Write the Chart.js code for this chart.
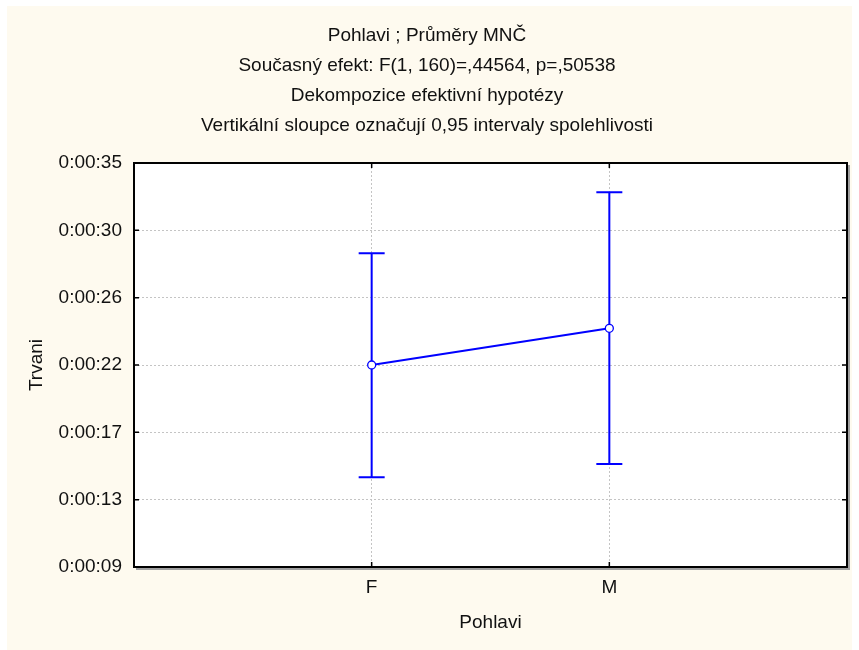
<!DOCTYPE html>
<html>
<head>
<meta charset="utf-8">
<script src="https://cdn.jsdelivr.net/npm/chart.js@4"></script>
<style>
html,body{margin:0;padding:0;background:#ffffff;}
#wrap{position:absolute;left:0;top:0;width:859px;height:650px;}
</style>
</head>
<body>
<div id="wrap"><canvas id="c" width="859" height="650"></canvas></div>
<script>
// ---- data ----
const categories = ['F', 'M'];
const categoryPositions = [1, 2];
const means = [22.0, 24.36];
const lowerCI = [14.77, 15.63];
const upperCI = [29.19, 33.11];
const yTickValues = [9, 13.333, 17.667, 22, 26.333, 30.667, 35];
const yTickLabels = ['0:00:09', '0:00:13', '0:00:17', '0:00:22', '0:00:26', '0:00:30', '0:00:35'];
const titleLines = [
  'Pohlavi ; Průměry MNČ',
  'Současný efekt: F(1, 160)=,44564, p=,50538',
  'Dekompozice efektivní hypotézy',
  'Vertikální sloupce označují 0,95 intervaly spolehlivosti'
];
const xTitle = 'Pohlavi';
const yTitle = 'Trvani';

const FONT = "'Liberation Sans', Arial, sans-serif";
const BLUE = '#0000ff';
const CREAM = '#fefaef';

const framePlugin = {
  id: 'frame',
  beforeDraw(chart) {
    const ctx = chart.ctx, a = chart.chartArea;
    ctx.save();
    ctx.fillStyle = '#ffffff';
    ctx.fillRect(0, 0, chart.width, chart.height);
    ctx.fillStyle = CREAM;
    ctx.fillRect(7, 6, 845, 644);
    ctx.fillStyle = '#ffffff';
    ctx.fillRect(a.left, a.top, a.right - a.left, a.bottom - a.top);
    ctx.restore();
  },
  beforeDatasetsDraw(chart) {
    const ctx = chart.ctx, a = chart.chartArea;
    const xs = chart.scales.x, ys = chart.scales.y;
    ctx.save();
    // shadow
    ctx.strokeStyle = '#a0a0a0';
    ctx.lineWidth = 2;
    ctx.beginPath();
    ctx.moveTo(a.right + 2, a.top + 2);
    ctx.lineTo(a.right + 2, a.bottom + 2);
    ctx.lineTo(a.left + 2, a.bottom + 2);
    ctx.stroke();
    // frame
    ctx.strokeStyle = '#000000';
    ctx.lineWidth = 2;
    ctx.strokeRect(a.left, a.top, a.right - a.left, a.bottom - a.top);
    // inward ticks
    ctx.lineWidth = 1.5;
    ctx.beginPath();
    yTickValues.forEach(v => {
      const y = ys.getPixelForValue(v);
      ctx.moveTo(a.left, y); ctx.lineTo(a.left + 5, y);
      ctx.moveTo(a.right, y); ctx.lineTo(a.right - 5, y);
    });
    categoryPositions.forEach(v => {
      const x = xs.getPixelForValue(v);
      ctx.moveTo(x, a.bottom); ctx.lineTo(x, a.bottom - 5);
      ctx.moveTo(x, a.top); ctx.lineTo(x, a.top + 5);
    });
    ctx.stroke();
    // error bars
    ctx.strokeStyle = BLUE;
    ctx.lineWidth = 2;
    ctx.beginPath();
    categoryPositions.forEach((p, i) => {
      const x = xs.getPixelForValue(p);
      const yl = ys.getPixelForValue(lowerCI[i]);
      const yu = ys.getPixelForValue(upperCI[i]);
      ctx.moveTo(x, yl); ctx.lineTo(x, yu);
      ctx.moveTo(x - 13, yu); ctx.lineTo(x + 13, yu);
      ctx.moveTo(x - 13, yl); ctx.lineTo(x + 13, yl);
    });
    ctx.stroke();
    ctx.restore();
  }
};

new Chart(document.getElementById('c'), {
  type: 'line',
  data: {
    datasets: [{
      data: categoryPositions.map((p, i) => ({ x: p, y: means[i] })),
      borderColor: BLUE,
      borderWidth: 2,
      pointRadius: 4,
      pointBackgroundColor: '#ffffff',
      pointBorderColor: BLUE,
      pointBorderWidth: 1.3,
      tension: 0,
      fill: false
    }]
  },
  options: {
    responsive: false,
    animation: false,
    devicePixelRatio: 1,
    layout: { padding: { left: 7, right: 12, top: 6, bottom: 0 } },
    plugins: {
      legend: { display: false },
      tooltip: { enabled: false },
      title: {
        display: true,
        text: titleLines,
        color: '#111111',
        font: { family: FONT, size: 19, weight: 'normal', lineHeight: 30 / 19 },
        padding: { top: 15, bottom: 22 }
      }
    },
    scales: {
      x: {
        type: 'linear',
        min: 0,
        max: 3,
        afterBuildTicks: s => { s.ticks = categoryPositions.map(v => ({ value: v })); },
        afterFit: s => { s.height = 83; },
        ticks: {
          callback: (v) => categories[categoryPositions.indexOf(v)],
          color: '#111111',
          font: { family: FONT, size: 19 },
          padding: 9,
          maxRotation: 0
        },
        grid: { color: '#c4c4c4', lineWidth: 1, drawTicks: false },
        border: { display: false, dash: [2, 2] },
        title: {
          display: true,
          text: xTitle,
          color: '#111111',
          font: { family: FONT, size: 19 },
          padding: { top: 0, bottom: 15.6 }
        }
      },
      y: {
        type: 'linear',
        min: 9,
        max: 35,
        afterBuildTicks: s => { s.ticks = yTickValues.map(v => ({ value: v })); },
        afterFit: s => { s.width = 127; },
        ticks: {
          callback: (v, i) => yTickLabels[i],
          color: '#111111',
          font: { family: FONT, size: 19 },
          padding: 12
        },
        grid: { color: '#c4c4c4', lineWidth: 1, drawTicks: false },
        border: { display: false, dash: [2, 2] },
        title: {
          display: true,
          text: yTitle,
          color: '#111111',
          font: { family: FONT, size: 19 },
          padding: { top: 18.6, bottom: 0 }
        }
      }
    }
  },
  plugins: [framePlugin]
});
</script>
</body>
</html>
